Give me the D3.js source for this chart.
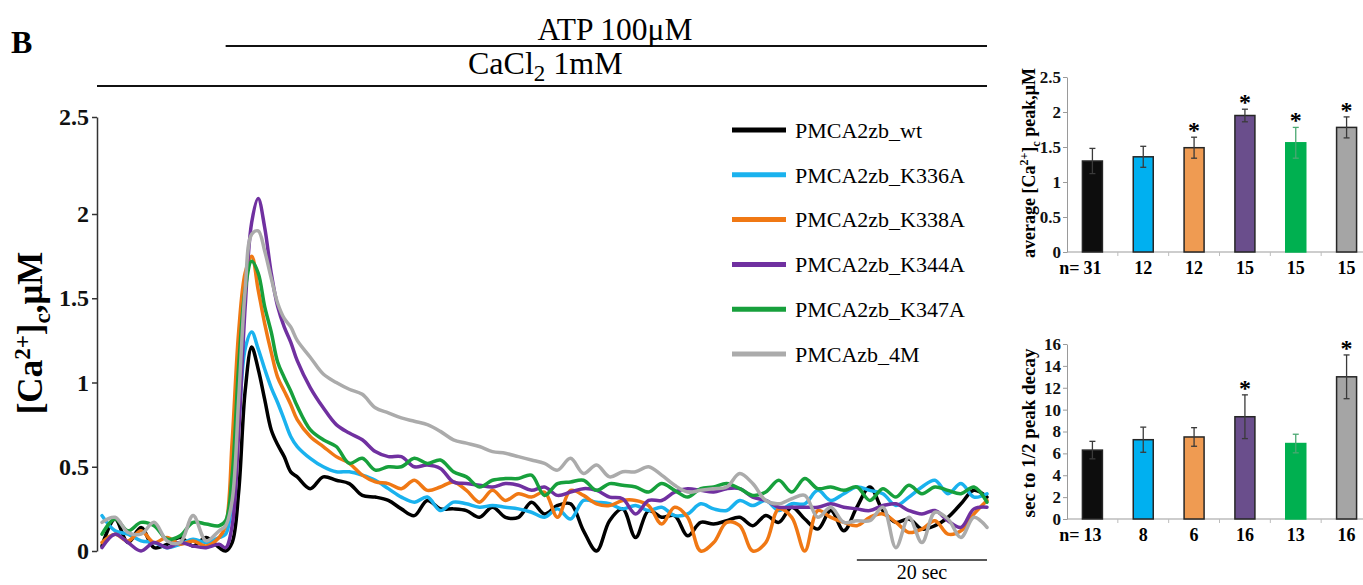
<!DOCTYPE html>
<html>
<head>
<meta charset="utf-8">
<script src="https://cdn.jsdelivr.net/npm/d3@7"></script>
<style>
  body { margin: 0; background: #fff; }
  text { font-family: "Liberation Serif", "Times New Roman", serif; }
</style>
</head>
<body>
<div id="chart"></div>
<script>
// Sample times (sec) shared by every trace
var times = [0,2,4,6,8,10,12,14,16,18,
  19,20,21,22,23,24,25,26,27,28,29,30,
  32,34,36,38,40,42,44,46,48,50,52,54,56,58,60,62,64,66,68,70,72,74,76,78,80,
  82,84,86,88,90,92,94,96,98,100,102,104,106,108,110,112,114,116,118,120,122,
  124,126,128,130,132,134,136];

// [Ca2+]c traces, uM
var traceWt = [0.03,0.19,0.05,0.14,0.02,0.04,0.08,0.03,0.08,0.02,
  0.0,0.05,0.35,0.95,1.21,1.08,0.9,0.72,0.63,0.56,0.47,0.44,
  0.37,0.44,0.42,0.40,0.33,0.32,0.30,0.25,0.21,0.30,0.25,0.25,0.24,0.2,0.26,0.2,0.2,0.29,0.22,0.27,
  0.28,0.12,0.0,0.18,0.25,0.08,0.24,0.2,0.21,0.09,0.17,0.16,0.18,0.2,0.15,0.21,0.17,0.26,0.19,0.13,
  0.24,0.12,0.26,0.38,0.24,0.17,0.19,0.13,0.15,0.2,0.28,0.36,0.32];
var traceK336A = [0.21,0.12,0.1,0.06,0.05,0.02,0.04,0.07,0.05,0.08,
  0.1,0.3,0.75,1.2,1.30,1.2,1.08,0.97,0.88,0.78,0.68,0.62,
  0.55,0.5,0.47,0.47,0.45,0.42,0.37,0.32,0.29,0.32,0.24,0.29,0.28,0.26,0.27,0.26,0.25,0.23,0.2,0.25,
  0.19,0.3,0.29,0.28,0.25,0.27,0.24,0.26,0.21,0.22,0.28,0.25,0.24,0.3,0.27,0.3,0.24,0.28,0.28,0.36,
  0.3,0.34,0.38,0.36,0.34,0.27,0.32,0.38,0.42,0.34,0.4,0.32,0.34];
var traceK338A = [0.05,0.1,0.06,0.12,0.05,0.08,0.04,0.06,0.03,0.08,
  0.15,0.65,1.3,1.65,1.75,1.55,1.35,1.18,1.03,0.95,0.87,0.78,
  0.68,0.62,0.56,0.52,0.45,0.41,0.4,0.37,0.42,0.36,0.38,0.41,0.36,0.29,0.36,0.3,0.34,0.32,0.35,0.2,
  0.36,0.33,0.28,0.27,0.3,0.3,0.27,0.16,0.26,0.2,0.0,0.05,0.17,0.15,0.0,0.05,0.25,0.2,0.0,0.24,
  0.2,0.17,0.15,0.2,0.22,0.17,0.11,0.13,0.18,0.1,0.12,0.22,0.3];
var traceK344A = [0.02,0.1,0.05,0.0,0.05,0.02,0.05,0.03,0.02,0.04,
  0.02,0.15,0.7,1.45,1.95,2.08,1.92,1.65,1.45,1.33,1.24,1.13,
  0.97,0.85,0.75,0.7,0.66,0.59,0.56,0.56,0.5,0.51,0.49,0.41,0.4,0.39,0.38,0.4,0.39,0.36,0.38,0.33,
  0.35,0.37,0.36,0.32,0.31,0.22,0.3,0.3,0.35,0.37,0.36,0.35,0.37,0.37,0.32,0.3,0.26,0.26,0.26,0.26,
  0.28,0.26,0.25,0.24,0.27,0.28,0.24,0.22,0.24,0.18,0.14,0.25,0.26];
var traceK347A = [0.1,0.19,0.12,0.17,0.15,0.07,0.09,0.17,0.16,0.15,
  0.18,0.45,1.1,1.55,1.72,1.65,1.45,1.3,1.12,1.03,0.95,0.86,
  0.72,0.66,0.62,0.52,0.55,0.48,0.5,0.5,0.55,0.52,0.54,0.47,0.44,0.38,0.42,0.43,0.43,0.45,0.33,0.4,
  0.41,0.42,0.36,0.4,0.39,0.38,0.35,0.4,0.36,0.32,0.37,0.38,0.4,0.37,0.33,0.35,0.42,0.35,0.43,0.37,
  0.38,0.36,0.38,0.3,0.37,0.32,0.39,0.34,0.38,0.36,0.34,0.38,0.29];
var trace4M = [0.17,0.2,0.11,0.1,0.17,0.06,0.05,0.21,0.06,0.12,
  0.15,0.3,0.9,1.55,1.88,1.9,1.78,1.62,1.47,1.38,1.33,1.25,
  1.15,1.05,1.0,0.96,0.93,0.85,0.82,0.79,0.77,0.75,0.71,0.66,0.64,0.62,0.59,0.58,0.56,0.54,0.52,0.48,
  0.55,0.46,0.51,0.44,0.47,0.47,0.5,0.45,0.39,0.35,0.36,0.37,0.38,0.46,0.4,0.3,0.28,0.31,0.33,0.2,
  0.26,0.17,0.18,0.18,0.26,0.02,0.2,0.05,0.23,0.19,0.08,0.2,0.14];

var seriesNames = ["PMCA2zb_wt", "PMCA2zb_K336A", "PMCA2zb_K338A", "PMCA2zb_K344A", "PMCA2zb_K347A", "PMCAzb_4M"];
var lineColors = ["#000000", "#1ab2ee", "#f07814", "#7030a0", "#17a03c", "#ababab"];
var traces = [traceWt, traceK336A, traceK338A, traceK344A, traceK347A, trace4M];
var mainTicks = [0, 0.5, 1, 1.5, 2, 2.5];

// bar charts
var barFill = ["#0d0d0d", "#00b0f0", "#ef9b52", "#6a4e8c", "#00b050", "#a5a5a5"];
var peakMean = [1.30, 1.36, 1.49, 1.95, 1.56, 1.78];
var peakErr = [0.18, 0.15, 0.15, 0.09, 0.22, 0.15];
var peakN = [31, 12, 12, 15, 15, 15];
var peakSig = [false, false, true, true, true, true];
var peakTicks = [0, 0.5, 1, 1.5, 2, 2.5];
var decayMean = [6.3, 7.25, 7.5, 9.35, 6.9, 13.0];
var decayErr = [0.8, 1.15, 0.85, 2.0, 0.85, 2.0];
var decayN = [13, 8, 6, 16, 13, 16];
var decaySig = [false, false, false, true, false, true];
var decayTicks = [0, 2, 4, 6, 8, 10, 12, 14, 16];

var svg = d3.select('#chart').append('svg')
  .attr('width', 1363)
  .attr('height', 585);

// panel letter
svg.append('text').attr('x', 11).attr('y', 53)
  .attr('font-size', 32).attr('font-weight', 'bold').text('B');

// ---------- main trace plot ----------
var x = d3.scaleLinear().domain([0, 136]).range([102, 987]);
var y = d3.scaleLinear().domain([0, 2, 2.5]).range([551, 214, 117]).clamp(true);

svg.append('clipPath').attr('id', 'plotClip')
  .append('rect').attr('x', 97).attr('y', 100).attr('width', 895).attr('height', 453);

// treatment bars
svg.append('line').attr('x1', x(19)).attr('x2', x(136)).attr('y1', 46).attr('y2', 46)
  .attr('stroke', '#111').attr('stroke-width', 2);
svg.append('text').attr('x', 615).attr('y', 40).attr('text-anchor', 'middle')
  .attr('font-size', 31.5).text('ATP 100\u03bcM');
svg.append('line').attr('x1', 97).attr('x2', x(136)).attr('y1', 86).attr('y2', 86)
  .attr('stroke', '#111').attr('stroke-width', 2);
var ca = svg.append('text').attr('x', 468).attr('y', 74).attr('font-size', 32);
ca.append('tspan').text('CaCl');
ca.append('tspan').attr('dy', 7).attr('font-size', 23).text('2');
ca.append('tspan').attr('dy', -7).text(' 1mM');

var yAxis = svg.append('g')
  .attr('transform', 'translate(97,0)')
  .call(d3.axisLeft(y).tickValues(mainTicks).tickSize(5).tickSizeOuter(0).tickFormat(function(d) { return d; }));
yAxis.select('.domain').attr('stroke', '#333').attr('stroke-width', 1.5);
yAxis.selectAll('.tick line').attr('stroke', '#333').attr('stroke-width', 1.5);
yAxis.selectAll('.tick text')
  .attr('font-family', '"Liberation Serif", serif')
  .attr('font-size', 24).attr('font-weight', 'bold').attr('fill', '#111').attr('x', -8);

var yl = svg.append('text')
  .attr('transform', 'translate(42,333) rotate(-90)')
  .attr('text-anchor', 'middle').attr('font-size', 35).attr('font-weight', 'bold');
yl.append('tspan').text('[Ca');
yl.append('tspan').attr('dy', -12).attr('font-size', 23).text('2+');
yl.append('tspan').attr('dy', 12).text(']');
yl.append('tspan').attr('dy', 8).attr('font-size', 23).text('c');
yl.append('tspan').attr('dy', -8).text(',\u03bcM');

var line = d3.line()
  .x(function(d, i) { return x(times[i]); })
  .y(function(d) { return y(d); })
  .curve(d3.curveCatmullRom.alpha(0.5));

svg.append('g').attr('clip-path', 'url(#plotClip)')
  .selectAll('path')
  .data(traces)
  .enter().append('path')
  .attr('d', line)
  .attr('fill', 'none')
  .attr('stroke', function(d, i) { return lineColors[i]; })
  .attr('stroke-width', 3.5)
  .attr('stroke-linejoin', 'round')
  .attr('stroke-linecap', 'round');

// legend
var legend = svg.append('g').selectAll('g')
  .data(seriesNames)
  .enter().append('g')
  .attr('transform', function(d, i) { return 'translate(732,' + (130 + i * 44.8) + ')'; });
legend.append('line').attr('x1', 0).attr('x2', 54)
  .attr('stroke', function(d, i) { return lineColors[i]; })
  .attr('stroke-width', 5);
legend.append('text').attr('x', 63).attr('dy', '0.35em')
  .attr('font-size', 22).text(function(d) { return d; });

// 20 sec scale bar
svg.append('line').attr('x1', x(116)).attr('x2', x(136)).attr('y1', 560).attr('y2', 560)
  .attr('stroke', '#222').attr('stroke-width', 1.5);
svg.append('text').attr('x', (x(116) + x(136)) / 2).attr('y', 579)
  .attr('text-anchor', 'middle').attr('font-size', 20).text('20 sec');

// ---------- bar charts ----------
function drawBars(opts) {
  var idx = d3.range(opts.mean.length);
  var xb = d3.scaleBand().domain(idx).range([1067, 1372]);
  var yb = d3.scaleLinear().domain(opts.domain).range([opts.bottom, opts.top]);
  var bw = 20;
  var cx = function(i) { return xb(i) + xb.bandwidth() / 2; };
  var errColor = function(i) { return i === 4 ? '#4aa872' : '#3a3a3a'; };
  var g = svg.append('g');

  // x baseline with category ticks
  g.append('line').attr('x1', 1067).attr('x2', 1363).attr('y1', yb(0)).attr('y2', yb(0))
    .attr('stroke', '#bdbdbd').attr('stroke-width', 1.5);
  g.selectAll('.xt').data(idx.slice(1)).enter().append('line')
    .attr('x1', function(i) { return xb(i); }).attr('x2', function(i) { return xb(i); })
    .attr('y1', yb(0)).attr('y2', yb(0) + 4)
    .attr('stroke', '#bdbdbd');

  var ax = g.append('g').attr('transform', 'translate(1067,0)')
    .call(d3.axisLeft(yb).tickValues(opts.ticks).tickSize(4).tickSizeOuter(0).tickFormat(function(d) { return d; }));
  ax.select('.domain').attr('stroke', '#9a9a9a');
  ax.selectAll('.tick line').attr('stroke', '#9a9a9a');
  ax.selectAll('.tick text')
    .attr('font-family', '"Liberation Serif", serif')
    .attr('font-size', 17).attr('font-weight', 'bold').attr('fill', '#111').attr('x', -6);

  var bars = g.selectAll('.bar').data(idx).enter().append('g');
  bars.append('rect')
    .attr('x', function(i) { return cx(i) - bw / 2; })
    .attr('y', function(i) { return yb(opts.mean[i]); })
    .attr('width', bw)
    .attr('height', function(i) { return yb(0) - yb(opts.mean[i]); })
    .attr('fill', function(i) { return barFill[i]; })
    .attr('stroke', function(i) { return i === 4 ? barFill[i] : '#262626'; })
    .attr('stroke-width', 1.5);

  bars.append('line')
    .attr('x1', cx).attr('x2', cx)
    .attr('y1', function(i) { return yb(opts.mean[i] + opts.err[i]); })
    .attr('y2', function(i) { return yb(opts.mean[i] - opts.err[i]); })
    .attr('stroke', errColor).attr('stroke-width', 1.3);
  [1, -1].forEach(function(s) {
    bars.append('line')
      .attr('x1', function(i) { return cx(i) - 3; })
      .attr('x2', function(i) { return cx(i) + 3; })
      .attr('y1', function(i) { return yb(opts.mean[i] + s * opts.err[i]); })
      .attr('y2', function(i) { return yb(opts.mean[i] + s * opts.err[i]); })
      .attr('stroke', errColor).attr('stroke-width', 1.3);
  });

  bars.filter(function(i) { return opts.sig[i]; }).append('text')
    .attr('x', cx)
    .attr('y', function(i) { return yb(opts.mean[i] + opts.err[i]) + 1; })
    .attr('text-anchor', 'middle').attr('font-size', 24).attr('font-weight', 'bold')
    .text('*');

  bars.append('text')
    .attr('x', cx)
    .attr('y', opts.bottom + 22)
    .attr('text-anchor', 'middle').attr('font-size', 18).attr('font-weight', 'bold')
    .text(function(i) { return opts.n[i]; });
  g.append('text').attr('x', cx(0) - 13).attr('y', opts.bottom + 22)
    .attr('text-anchor', 'end').attr('font-size', 18).attr('font-weight', 'bold').text('n=');

  return g;
}

var g1 = drawBars({ mean: peakMean, err: peakErr, n: peakN, sig: peakSig,
  domain: [0, 2.5], ticks: peakTicks, top: 77, bottom: 252 });
var t1 = g1.append('text')
  .attr('transform', 'translate(1035,163) rotate(-90)')
  .attr('text-anchor', 'middle').attr('font-size', 18).attr('font-weight', 'bold');
t1.append('tspan').text('average [Ca');
t1.append('tspan').attr('dy', -7).attr('font-size', 12).text('2+');
t1.append('tspan').attr('dy', 7).text(']');
t1.append('tspan').attr('dy', 5).attr('font-size', 12).text('c');
t1.append('tspan').attr('dy', -5).text(' peak,\u03bcM');

var g2 = drawBars({ mean: decayMean, err: decayErr, n: decayN, sig: decaySig,
  domain: [0, 16], ticks: decayTicks, top: 344, bottom: 519 });
g2.append('text')
  .attr('transform', 'translate(1035,433) rotate(-90)')
  .attr('text-anchor', 'middle').attr('font-size', 19).attr('font-weight', 'bold')
  .text('sec to 1/2 peak decay');
</script>
</body>
</html>
